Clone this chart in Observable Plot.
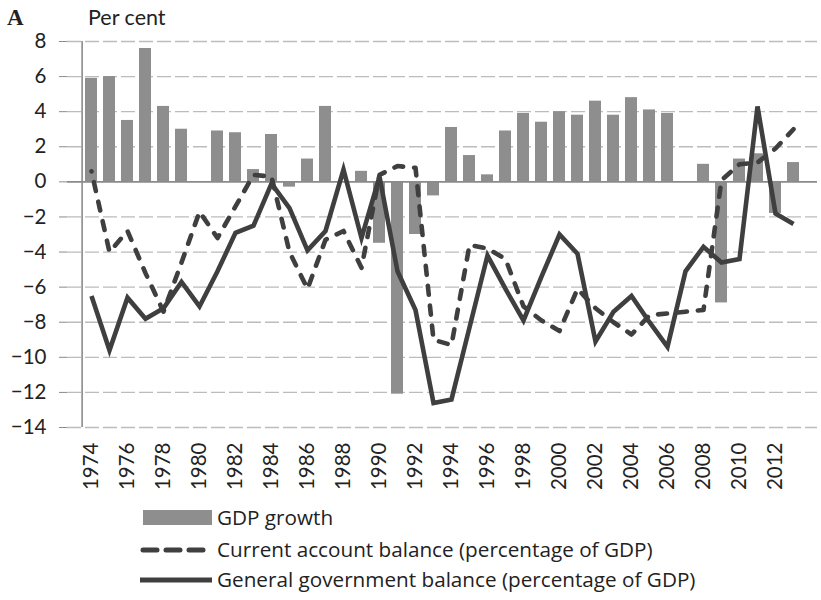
<!DOCTYPE html>
<html>
<head>
<meta charset="utf-8">
<script src="https://cdn.jsdelivr.net/npm/d3@7"></script>
<script src="https://cdn.jsdelivr.net/npm/@observablehq/plot@0.6"></script>
<style>
  html, body { margin: 0; padding: 0; background: #fff; }
  #wrap { position: relative; width: 821px; height: 600px; font-family: Lato, "Open Sans", sans-serif; color: #222; }
  #wrap svg.plot { position: absolute; left: 0; top: 0; }
  .lbl { position: absolute; white-space: nowrap; }
  .leg { position: absolute; left: 0; width: 821px; height: 30px; }
  .leg svg { position: absolute; left: 0; top: 0; }
  .leg span { position: absolute; left: 217px; font-family: "Open Sans", Lato, sans-serif; font-size: 20.7px; line-height: 30px; top: 0; white-space: nowrap; }
</style>
</head>
<body>
<div id="wrap">
  <div class="lbl" style="left:7px; top:5px; font-family:'Liberation Serif',serif; font-weight:bold; font-size:23px;">A</div>
  <div class="lbl" style="left:88px; top:4px; font-size:21.5px;">Per cent</div>
</div>
<script>
const years = [1974,1975,1976,1977,1978,1979,1980,1981,1982,1983,
               1984,1985,1986,1987,1988,1989,1990,1991,1992,1993,
               1994,1995,1996,1997,1998,1999,2000,2001,2002,2003,
               2004,2005,2006,2007,2008,2009,2010,2011,2012,2013];
const gdpGrowth = [5.9,6.0,3.5,7.6,4.3,3.0,0,2.9,2.8,0.7,
                   2.7,-0.3,1.3,4.3,0,0.6,-3.5,-12.1,-3.0,-0.8,
                   3.1,1.5,0.4,2.9,3.9,3.4,4.0,3.8,4.6,3.8,
                   4.8,4.1,3.9,0,1.0,-6.9,1.3,1.6,-1.8,1.1];
const currentAccount = [0.6,-4.0,-2.8,-5.2,-7.4,-4.6,-1.7,-3.2,-1.4,0.4,
                        0.3,-4.0,-6.1,-3.3,-2.8,-4.9,0.4,0.9,0.8,-9.0,
                        -9.3,-3.6,-3.8,-4.4,-7.1,-7.9,-8.5,-6.1,-7.2,-8.0,
                        -8.7,-7.6,-7.5,-7.4,-7.3,0.1,1.0,1.1,1.9,3.0];
const govBalance = [-6.5,-9.6,-6.6,-7.8,-7.2,-5.7,-7.1,-5.1,-2.9,-2.5,
                    -0.1,-1.5,-3.9,-2.8,0.7,-3.2,0.3,-5.1,-7.3,-12.6,
                    -12.4,-8.3,-4.2,-6.1,-7.9,-5.4,-3.0,-4.1,-9.1,-7.4,
                    -6.5,-8.0,-9.4,-5.1,-3.7,-4.6,-4.4,4.3,-1.8,-2.4];
const yTicks = [8,6,4,2,0,-2,-4,-6,-8,-10,-12,-14];
const xTickYears = [1974,1976,1978,1980,1982,1984,1986,1988,1990,1992,
                    1994,1996,1998,2000,2002,2004,2006,2008,2010,2012];
const seriesNames = ["GDP growth",
                     "Current account balance (percentage of GDP)",
                     "General government balance (percentage of GDP)"];

const rows = years.map((yr, i) => ({year: yr, gdp: gdpGrowth[i], ca: currentAccount[i], gov: govBalance[i]}));

const W = 821, H = 492, ML = 67, MR = 4;
const step = (W - ML - MR) / years.length;
const lineColor = "#3f3f3f";
const barColor = "#8e8e8e";

const chart = Plot.plot({
  width: W,
  height: H,
  marginLeft: ML,
  marginRight: MR,
  marginTop: 41,
  marginBottom: 65,
  style: {fontFamily: "Lato, 'Open Sans', sans-serif", fontSize: "20px", color: "#222", background: "white"},
  x: {type: "band", domain: years, paddingInner: 0.34, paddingOuter: 0.17, label: null},
  y: {domain: [-14, 8], label: null},
  marks: [
    Plot.ruleY(yTicks.filter(d => d !== 0), {stroke: "#bcbcbc", strokeWidth: 1.3, strokeDasharray: "14,4"}),
    Plot.barY(rows, {x: "year", y: "gdp", fill: barColor}),
    Plot.ruleY([0], {stroke: "#8a8a8a", strokeWidth: 1.6}),
    Plot.ruleX([years[0]], {x: d => d, y1: -14, y2: 8, dx: -step / 2, stroke: "#8a8a8a", strokeWidth: 1.6}),
    Plot.axisY({ticks: yTicks, tickSize: 8, tickPadding: 13, fontSize: 20.5, stroke: "#8a8a8a", fill: "#222"}),
    Plot.axisX({ticks: xTickYears, tickSize: 0, tickPadding: 15, tickRotate: -90, fontSize: 20.5, fill: "#222", tickFormat: d => String(d)}),
    Plot.line(rows, {x: "year", y: "ca", stroke: lineColor, strokeWidth: 4.6, strokeDasharray: "9,11", strokeLinecap: "round", strokeLinejoin: "round"}),
    Plot.line(rows, {x: "year", y: "gov", stroke: lineColor, strokeWidth: 4.6, strokeLinejoin: "miter", strokeMiterlimit: 4, strokeLinecap: "butt"})
  ]
});
chart.classList.add("plot");
const wrap = document.getElementById("wrap");
wrap.insertBefore(chart, wrap.firstChild);

// Align the dash pattern so the dashed line ends on a dash
chart.querySelectorAll('[stroke-dasharray="9,11"] path, path[stroke-dasharray="9,11"]').forEach(p => {
  const L = p.getTotalLength();
  const off = ((8 - (L % 20)) % 20 + 20) % 20;
  p.setAttribute("stroke-dashoffset", off);
});

// Legend below the chart
const legendTops = [502, 534, 564];
const swatches = [
  `<svg width="220" height="30"><rect x="143" y="8" width="69" height="15" fill="${barColor}"/></svg>`,
  `<svg width="220" height="30"><line x1="143" y1="16" x2="203" y2="16" stroke="${lineColor}" stroke-width="5" stroke-dasharray="14,9" stroke-linecap="round"/></svg>`,
  `<svg width="220" height="30"><line x1="140" y1="16" x2="212" y2="16" stroke="${lineColor}" stroke-width="5"/></svg>`
];
seriesNames.forEach((name, i) => {
  const d = document.createElement("div");
  d.className = "leg";
  d.style.top = legendTops[i] + "px";
  d.innerHTML = swatches[i] + `<span>${name}</span>`;
  wrap.appendChild(d);
});
</script>
</body>
</html>
